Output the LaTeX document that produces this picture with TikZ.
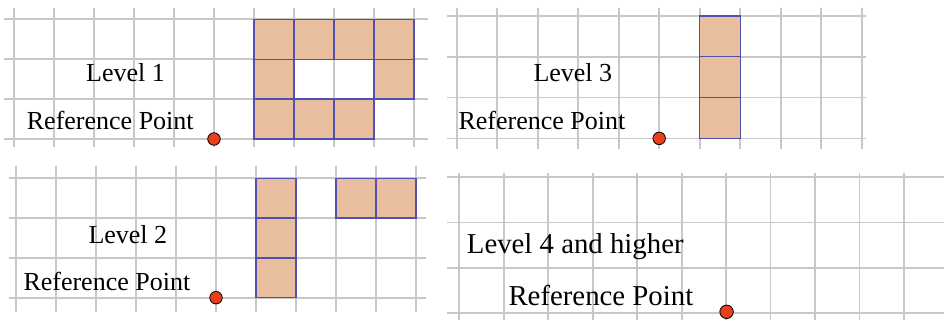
\documentclass[tikz,border=0pt]{standalone}
\usepackage{fontspec}
\setmainfont{Liberation Serif}
\definecolor{gridgray}{HTML}{C8C8C8}
\definecolor{cellfill}{HTML}{E8BE9F}
\definecolor{celledge}{HTML}{5050B0}
\definecolor{dotred}{HTML}{E8401E}
\tikzset{
  gridline/.style={draw=gridgray, line width=1.7pt},
  cell/.style={fill=cellfill, draw=celledge, line width=1.3pt},
  refdot/.style={circle, fill=dotred, draw=black, line width=0.8pt, minimum size=12.5pt, inner sep=0pt},
  lbl/.style={anchor=base west, inner sep=0pt, font=\fontsize{26}{30}\selectfont},
  biglbl/.style={anchor=base west, inner sep=0pt, font=\fontsize{28.8}{33}\selectfont},
}
\begin{document}
\begin{tikzpicture}[x=1pt, y=-1pt]
\useasboundingbox (0,0) rectangle (944,320);
\fill[white] (0,0) rectangle (944,320);

% ---------- Panel 1 (Level 1) ----------
\begin{scope}[xshift=14pt, yshift=-19.3pt, x=40pt, y=-39.9pt]
  \foreach \i in {0,...,10} \draw[gridline] (\i,-0.28) -- (\i,3.2);
  \foreach \j in {0,...,3} \draw[gridline] (-0.25,\j) -- (10.35,\j);
  \foreach \c/\r in {6/0,7/0,8/0,9/0,6/1,9/1,6/2,7/2,8/2}
    \draw[cell] (\c,\r) rectangle (\c+1,\r+1);
  \node[refdot] (dot1) at (5,3) {};
\end{scope}
\node[lbl] (lev1) at (86,81.7) {Level 1};
\node[lbl] (ref1) at (26.7,129.3) {Reference Point};

% ---------- Panel 3 (Level 3) ----------
\begin{scope}[xshift=456.7pt, yshift=-16pt, x=40.5pt, y=-40.8pt]
  \foreach \i in {0,...,10} \draw[gridline] (\i,-0.2) -- (\i,3.25);
  \foreach \j in {0,...,3} \draw[gridline] (-0.23,\j) -- (10.11,\j);
  \foreach \c/\r in {6/0,6/1,6/2}
    \draw[cell] (\c,\r) rectangle (\c+1,\r+1);
  \node[refdot] (dot3) at (5,3) {};
\end{scope}
\node[lbl] (lev3) at (533.3,81.7) {Level 3};
\node[lbl] (ref3) at (458.3,129.3) {Reference Point};

% ---------- Panel 2 (Level 2) ----------
\begin{scope}[xshift=16pt, yshift=-178.3pt, x=40pt, y=-39.8pt]
  \foreach \i in {0,...,10} \draw[gridline] (\i,-0.31) -- (\i,3.37);
  \foreach \j in {0,...,3} \draw[gridline] (-0.17,\j) -- (10.25,\j);
  \foreach \c/\r in {6/0,6/1,6/2,8/0,9/0}
    \draw[cell] (\c,\r) rectangle (\c+1,\r+1);
  \node[refdot] (dot2) at (5,3) {};
\end{scope}
\node[lbl] (lev2) at (88.3,243.3) {Level 2};
\node[lbl] (ref2) at (23.3,290.7) {Reference Point};

% ---------- Panel 4 (Level 4 and higher) ----------
\begin{scope}[xshift=459.3pt, yshift=-177.3pt, x=44.47pt, y=-45.3pt]
  \foreach \i in {0,...,10} \draw[gridline] (\i,-0.09) -- (\i,3.2);
  \foreach \j in {0,...,3} \draw[gridline] (-0.27,\j) -- (11,\j);
  \node[refdot, minimum size=13.5pt] (dot4) at (6.01,2.97) {};
\end{scope}
\node[biglbl] (lev4) at (466.7,253.3) {Level 4 and higher};
\node[biglbl] (ref4) at (508.3,305.7) {Reference Point};
\end{tikzpicture}
\end{document}
